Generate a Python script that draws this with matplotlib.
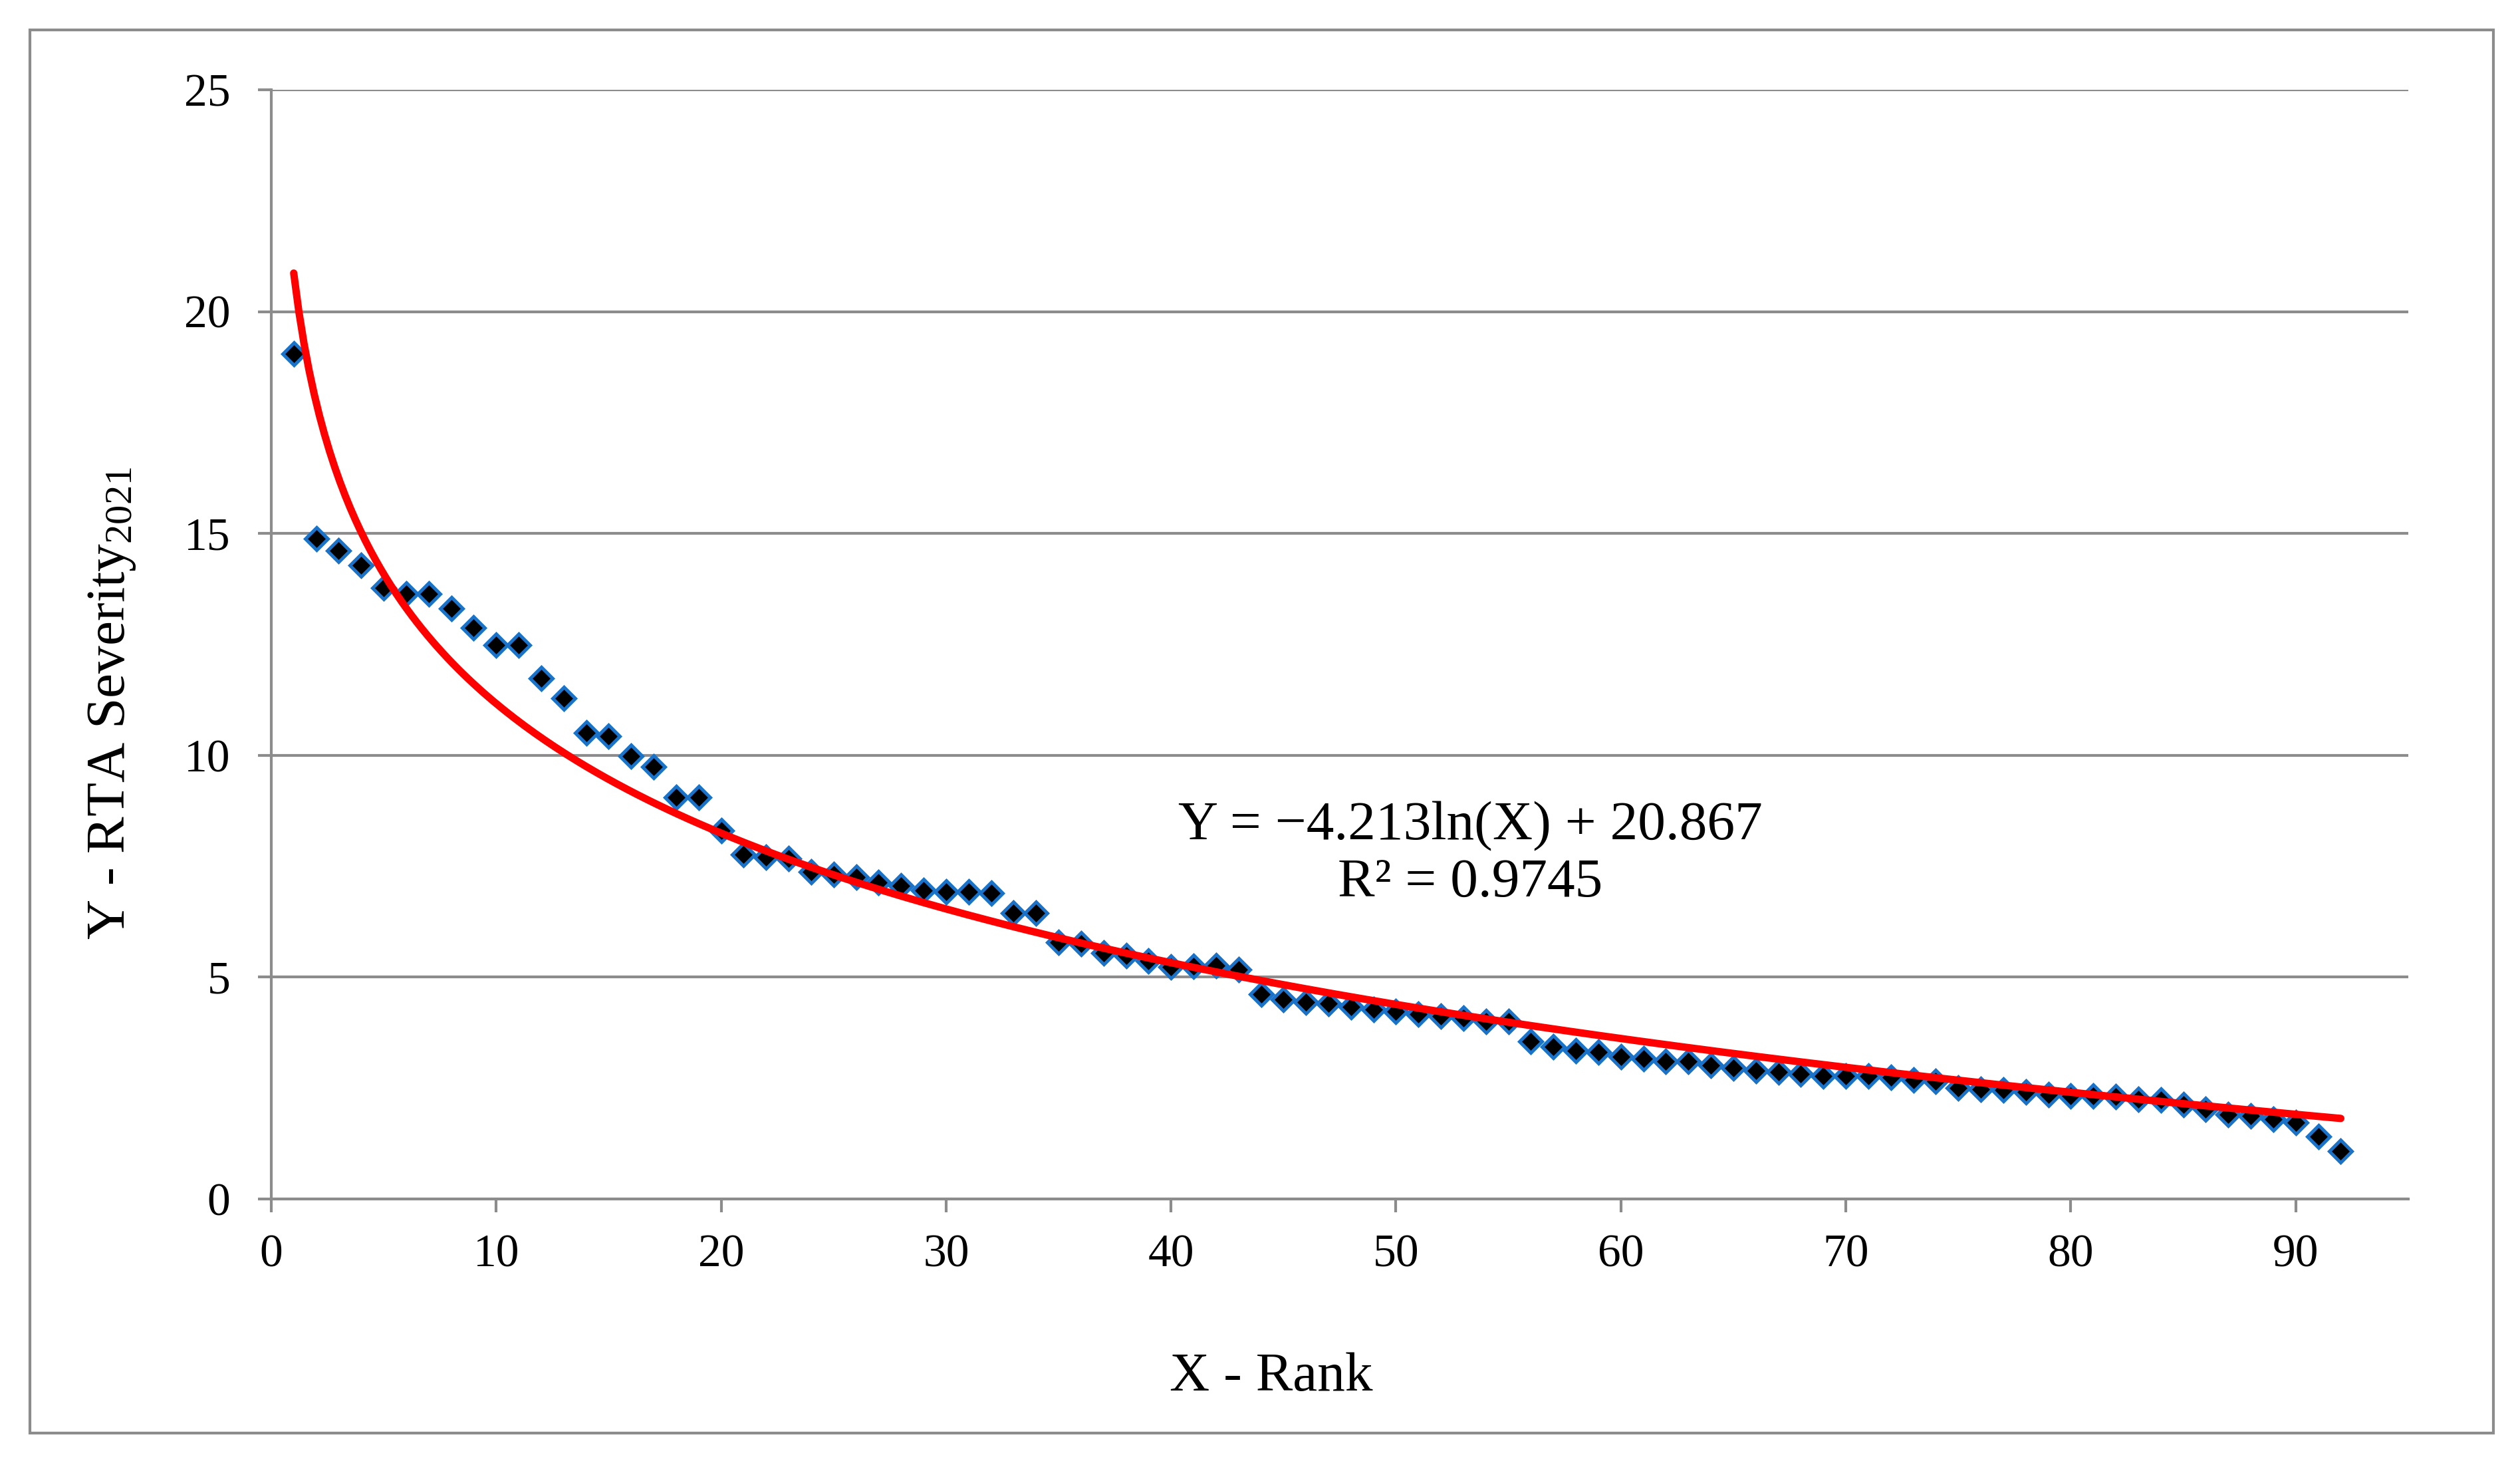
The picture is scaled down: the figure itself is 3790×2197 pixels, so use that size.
import matplotlib
matplotlib.use('Agg')
import numpy as np
import matplotlib.pyplot as plt
from matplotlib.patches import Rectangle

# rank and severity values
rank = list(range(1, 93))
severity = [19.05, 14.88, 14.62, 14.28, 13.77, 13.64, 13.64, 13.31, 12.88, 12.48,
            12.48, 11.74, 11.29, 10.51, 10.43, 9.98, 9.74, 9.06, 9.06, 8.31,
            7.77, 7.71, 7.68, 7.38, 7.31, 7.26, 7.13, 7.06, 6.96, 6.92,
            6.92, 6.89, 6.44, 6.44, 5.78, 5.75, 5.54, 5.48, 5.37, 5.23,
            5.25, 5.26, 5.17, 4.62, 4.49, 4.43, 4.41, 4.33, 4.27, 4.22,
            4.16, 4.12, 4.07, 4.01, 4.01, 3.56, 3.43, 3.35, 3.31, 3.21,
            3.16, 3.10, 3.10, 3.01, 2.96, 2.90, 2.87, 2.82, 2.77, 2.77,
            2.77, 2.74, 2.68, 2.66, 2.50, 2.47, 2.46, 2.41, 2.36, 2.32,
            2.32, 2.31, 2.25, 2.23, 2.13, 2.02, 1.90, 1.87, 1.80, 1.73,
            1.41, 1.08]

# logarithmic trendline from the chart label
slope = -4.213
intercept = 20.867
r2 = 0.9745

x_ticks = list(range(0, 100, 10))
y_ticks = list(range(0, 30, 5))

plt.rcParams['font.family'] = ['Liberation Serif', 'DejaVu Serif']
plt.rcParams['mathtext.fontset'] = 'custom'
plt.rcParams['mathtext.rm'] = 'Liberation Serif'
plt.rcParams['mathtext.it'] = 'Liberation Serif:italic'

gray = '#8c8c8c'

fig = plt.figure(figsize=(3791 / 200, 2197 / 200), dpi=200)
ax = fig.add_axes([0.1076, 0.1793, 0.8478, 0.7593])

# outer chart border
fig.patches.append(Rectangle((0.0119, 0.0191), 0.9773, 0.9604, transform=fig.transFigure,
                             fill=False, edgecolor=gray, linewidth=1.5))

ax.plot(rank, severity, linestyle='none', marker='D', markersize=8.8,
        markerfacecolor='black', markeredgecolor='#1a73c8', markeredgewidth=1.8, zorder=3)

xs = np.linspace(1, 92, 400)
ax.plot(xs, slope * np.log(xs) + intercept, color='#ff0000', linewidth=4,
        solid_capstyle='round', zorder=4)

ax.text(53.3, 7.75, 'Y = \u22124.213ln(X) + 20.867\nR\u00b2 = ' + str(r2), ha='center', va='center',
        multialignment='center', fontsize=30, linespacing=1.2)

# format plot
ax.set_xlim(0, 95)
ax.set_ylim(0, 25)
ax.set_xticks(x_ticks)
ax.set_yticks(y_ticks)
ax.yaxis.grid(True, color=gray, linewidth=1.5)
ax.set_axisbelow(True)
for side in ['top', 'right']:
    ax.spines[side].set_visible(False)
for side in ['left', 'bottom']:
    ax.spines[side].set_color(gray)
    ax.spines[side].set_linewidth(1.5)
ax.tick_params(axis='both', direction='out', length=7.2, width=1.5, color=gray, labelsize=25)
ax.tick_params(axis='x', pad=12)
ax.tick_params(axis='y', pad=15)

ax.set_xlabel('X - Rank', fontsize=30)
ax.set_ylabel('Y - RTA Severity$_{2021}$', fontsize=30)
ax.xaxis.set_label_coords(0.468, -0.161)
ax.yaxis.set_label_coords(-0.0744, 0.447)
ax.xaxis.label.set_va('center')
ax.yaxis.label.set_va('center')

fig.savefig('out.png', dpi=200)
